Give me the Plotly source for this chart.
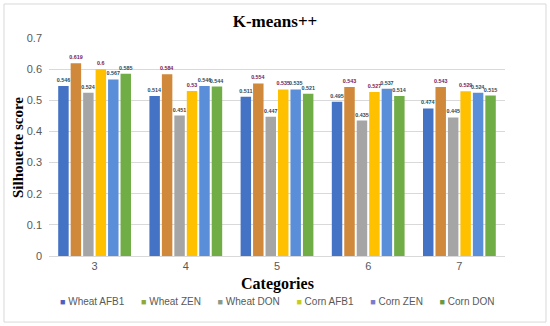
import plotly.graph_objects as go

categories = ["3", "4", "5", "6", "7"]
series_names = ["Wheat AFB1", "Wheat ZEN", "Wheat DON", "Corn AFB1", "Corn ZEN", "Corn DON"]
wheat_afb1 = [0.546, 0.514, 0.511, 0.495, 0.474]
wheat_zen = [0.619, 0.584, 0.554, 0.543, 0.543]
wheat_don = [0.524, 0.451, 0.447, 0.435, 0.445]
corn_afb1 = [0.6, 0.53, 0.535, 0.527, 0.529]
corn_zen = [0.567, 0.546, 0.535, 0.537, 0.524]
corn_don = [0.585, 0.544, 0.521, 0.514, 0.515]
y_ticks = [0, 0.1, 0.2, 0.3, 0.4, 0.5, 0.6, 0.7]
y_tick_labels = ["0", "0.1", "0.2", "0.3", "0.4", "0.5", "0.6", "0.7"]

series_values = [wheat_afb1, wheat_zen, wheat_don, corn_afb1, corn_zen, corn_don]
colors = ["#4472C4", "#D0883A", "#A5A5A5", "#FFC000", "#5B8ED8", "#70AD47"]
legend_colors = ["#4F5FC0", "#8FA83A", "#8A9A8A", "#C8CC20", "#7A7AD0", "#6A9A40"]
label_colors = ["#1F4E5F", "#7A2050", "#404040", "#7A2050", "#1F4E5F", "#1F4E5F"]

fig = go.Figure()
for name, vals, col, lc in zip(series_names, series_values, colors, label_colors):
    fig.add_trace(go.Bar(
        x=categories, y=vals, name=name,
        marker=dict(color=col, line=dict(width=0)),
        text=[("<b>%g</b>" % v) for v in vals], textposition="outside",
        textfont=dict(size=5.5, color=lc, family="Arial"),
        cliponaxis=False, showlegend=False,
    ))

fig.update_layout(
    width=550, height=326,
    margin=dict(l=49, r=45, t=38, b=70, autoexpand=False),
    paper_bgcolor="white", plot_bgcolor="white",
    barmode="group", bargap=0.18, bargroupgap=0.16,
    font=dict(family="Liberation Sans, Arial", color="#595959", size=11),
    title=dict(text="<b>K-means++</b>", x=0.5, xanchor="center", y=1 - 21/326, yanchor="middle",
               font=dict(family="Liberation Serif, Times New Roman", size=17, color="black")),
    showlegend=False,
    uniformtext=dict(minsize=5, mode="show"),
)
fig.update_xaxes(type="category", showgrid=False, showline=True, linecolor="#D9D9D9",
                 ticks="", tickfont=dict(size=11, color="#595959"), automargin=False)
fig.update_yaxes(range=[0, 0.7], tickvals=y_ticks, ticktext=y_tick_labels,
                 showgrid=True, gridcolor="#D9D9D9", zeroline=False, showline=False,
                 ticks="", tickfont=dict(size=11, color="#595959"), ticklabelstandoff=6,
                 automargin=False)

# legend built as a text line from the series names and their legend swatch colours
gap = "\u00a0" * 6
legend_text = gap.join(
    "<span style='color:%s;font-size:9px'>\u25a0</span>\u00a0%s" % (c, n)
    for c, n in zip(legend_colors, series_names)
)
fig.add_annotation(text=legend_text, xref="paper", yref="paper", x=0.5, y=-0.211,
                   showarrow=False, xanchor="center", yanchor="middle",
                   font=dict(family="Liberation Sans, Arial", size=10, color="#595959"))

fig.add_annotation(text="<b>Categories</b>", xref="paper", yref="paper", x=0.5, y=-0.128,
                   showarrow=False, yanchor="middle",
                   font=dict(family="Liberation Serif, Times New Roman", size=16, color="black"))
fig.add_annotation(text="<b>Silhouette score</b>", xref="paper", yref="paper", x=-0.068, y=0.5,
                   showarrow=False, textangle=-90, xanchor="center", yanchor="middle",
                   font=dict(family="Liberation Serif, Times New Roman", size=15, color="black"))
fig.add_shape(type="rect", xref="paper", yref="paper", x0=-0.0987, x1=1.0899, y0=-0.303, y1=1.156,
              line=dict(color="#D9D9D9", width=1), fillcolor="rgba(0,0,0,0)", layer="below")

fig.write_html("out.html", config={"displayModeBar": False},
               post_script="document.body.style.margin='0';document.body.style.padding='0';")
